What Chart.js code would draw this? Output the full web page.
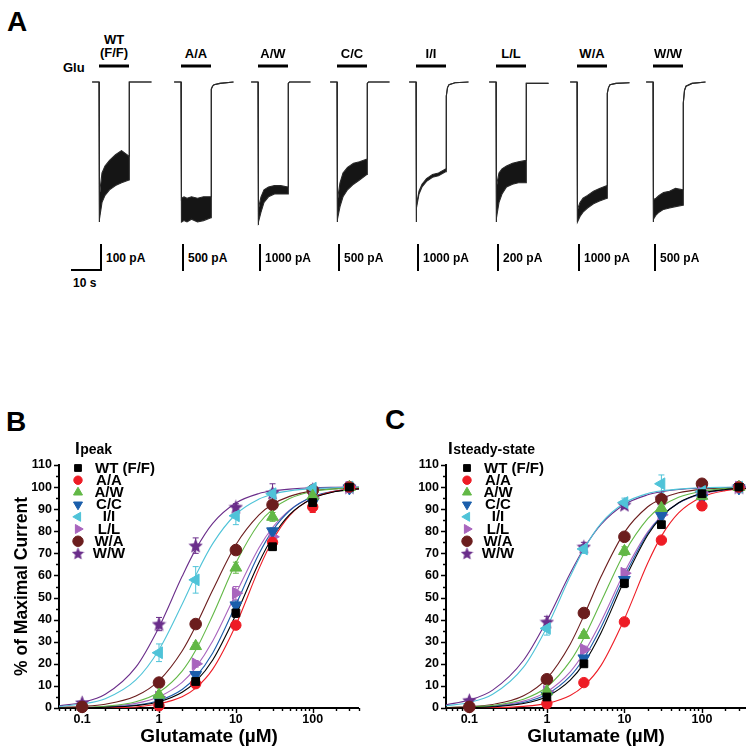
<!DOCTYPE html>
<html>
<head>
<meta charset="utf-8">
<title>Glutamate dose-response</title>
<script src="https://cdn.jsdelivr.net/npm/chart.js@4.4.1/dist/chart.umd.min.js"></script>
<style>
  html, body { margin: 0; padding: 0; background: #fff; }
  body { position: relative; width: 754px; height: 755px; overflow: hidden;
         font-family: "Liberation Sans", Arial, sans-serif; font-weight: bold; color: #000; }
  .abs { position: absolute; white-space: pre; }
  .panel-letter { font-size: 28px; line-height: 28px; }
  .trace-label { font-size: 13px; line-height: 13px; text-align: center; width: 80px; }
  .scale-label { font-size: 12px; line-height: 14px; }
  .bar { position: absolute; background: #000; }
  canvas { position: absolute; }
</style>
</head>
<body>
<div class="abs panel-letter" style="left:7px;top:8px">A</div>
<div class="abs panel-letter" style="left:6px;top:408px">B</div>
<div class="abs panel-letter" style="left:385px;top:406px">C</div>
<div class="abs trace-label" style="left:63px;top:61px;width:auto">Glu</div>
<div id="panelA"></div>
<canvas id="chartB" width="377" height="375" style="left:0;top:380px"></canvas>
<canvas id="chartC" width="377" height="375" style="left:377px;top:380px"></canvas>

<script>
(function () {
  'use strict';

  // ── Panel A data: currents normalised to peak, time in s ──────────── //
  const TRACE_LABELS = ['WT\n(F/F)', 'A/A', 'A/W', 'C/C', 'I/I', 'L/L', 'W/A', 'W/W'];
  const SCALE_LABELS = ['100 pA', '500 pA', '1000 pA', '500 pA', '1000 pA', '200 pA', '1000 pA', '500 pA'];
  const GLU_ON  = 0;
  const GLU_OFF = 10;
  const PRE_T   = [-2.3, 0];
  const APPLY_T = [0, 0.3, 1, 2, 3.5, 5.5, 7.5, 10];
  const TAIL_T  = [10.1, 10.5, 11, 13, 17.5];
  // upper (less negative) and lower edge of the noisy current during glutamate
  const TRACE_HI = [
    [-1.00, -0.80, -0.65, -0.60, -0.56, -0.52, -0.49, -0.53],
    [-0.85, -0.83, -0.82, -0.83, -0.82, -0.83, -0.82, -0.82],
    [-1.02, -0.90, -0.82, -0.77, -0.75, -0.74, -0.74, -0.75],
    [-1.00, -0.84, -0.72, -0.65, -0.61, -0.58, -0.57, -0.55],
    [-1.00, -0.88, -0.78, -0.73, -0.69, -0.66, -0.65, -0.62],
    [-1.00, -0.74, -0.65, -0.62, -0.60, -0.58, -0.57, -0.56],
    [-1.00, -0.91, -0.86, -0.83, -0.81, -0.78, -0.76, -0.74],
    [-1.00, -0.84, -0.83, -0.81, -0.79, -0.78, -0.76, -0.77]
  ];
  const TRACE_LO = [
    [-1.00, -0.98, -0.86, -0.81, -0.77, -0.74, -0.72, -0.70],
    [-1.00, -1.00, -0.99, -1.00, -0.98, -1.00, -0.99, -0.97],
    [-1.02, -1.00, -0.93, -0.86, -0.82, -0.80, -0.80, -0.80],
    [-1.00, -0.98, -0.89, -0.82, -0.77, -0.73, -0.70, -0.66],
    [-1.00, -0.90, -0.80, -0.75, -0.71, -0.68, -0.67, -0.64],
    [-1.00, -0.97, -0.86, -0.80, -0.75, -0.73, -0.72, -0.72],
    [-1.00, -1.00, -0.96, -0.93, -0.90, -0.87, -0.85, -0.83],
    [-1.00, -0.98, -0.95, -0.93, -0.91, -0.90, -0.89, -0.88]
  ];
  const TRACE_TAIL = [
    [0, 0, 0, 0, 0],
    [-0.05, -0.03, -0.02, -0.01, 0],
    [-0.01, 0, 0, 0, 0],
    [-0.01, 0, 0, 0, 0],
    [-0.10, -0.04, -0.02, -0.005, 0],
    [-0.01, -0.01, -0.01, -0.01, -0.01],
    [-0.08, -0.04, -0.02, -0.01, -0.005],
    [-0.15, -0.06, -0.03, -0.01, 0]
  ];

  // ── Panels B / C data ─────────────────────────────────────────────── //
  const GENOTYPES = ['WT (F/F)', 'A/A', 'A/W', 'C/C', 'I/I', 'L/L', 'W/A', 'W/W'];
  const CONC = [0.1, 1, 3, 10, 30, 100, 300];   // µM
  const PEAK_MEAN = [
    [null, 2, 12, 43, 73, 93, 100],
    [null, 1, 11, 37.5, 75, 91, 100],
    [null, 6, 28, 63.5, 86.5, 96, 100],
    [null, 3.5, 15, 46.5, 80, 93, 99.5],
    [null, 25, 58, 87, 97, 99.5, 100],
    [null, 5, 20, 52, 77.5, 95, 100],
    [0.5, 11.5, 38, 71.5, 92, 98.5, 100],
    [2.5, 38, 73.5, 91, 97.5, 99, 100]
  ];
  const PEAK_SEM = [
    [null, 0.5, 1, 2, 1.5, 1, 0],
    [null, 0.5, 1, 1.5, 2, 2.5, 0],
    [null, 1, 1.5, 2.5, 2, 1, 0],
    [null, 0.5, 1, 2, 1.5, 1, 0],
    [null, 4, 6, 4, 2, 1, 0],
    [null, 1, 1.5, 3, 2, 1, 0],
    [0.3, 1, 2, 1.5, 1, 0.5, 0],
    [0.5, 3, 3.5, 1.5, 4, 0.5, 0]
  ];
  const SS_MEAN = [
    [null, 5, 20, 56.5, 83, 97, 100],
    [null, 2, 11.5, 39, 76, 91.5, 100],
    [null, 7.5, 33, 71, 90.5, 96, 100],
    [null, 5.5, 22.5, 58, 87, 95, 99.5],
    [null, 36, 72, 93, 101.5, 98, 100],
    [null, 7.5, 26.5, 61, 87.5, 97.5, 100],
    [0.5, 13, 43, 77.5, 94.5, 101.5, 100],
    [3.5, 39, 73, 92, 95, 97, 100]
  ];
  const SS_SEM = [
    [null, 0.5, 1, 2, 1, 1, 0],
    [null, 0.5, 1, 1.5, 1.5, 2, 0],
    [null, 1, 1.5, 2, 2, 1, 0],
    [null, 0.5, 1, 2, 1.5, 1, 0],
    [null, 3, 2, 2, 4, 1, 0],
    [null, 1, 1.5, 2, 1.5, 1, 0],
    [0.3, 1, 2, 1.5, 1, 1, 0],
    [0.5, 2.5, 2, 1.5, 1.5, 1, 0]
  ];
  // fitted curves, read at these concentrations
  const FIT_X = [0.05, 0.1, 0.2, 0.5, 1, 2, 3, 5, 10, 20, 30, 50, 100, 200, 400];
  const PEAK_FIT = [
    [0.04, 0.12, 0.31, 1.1, 2.8, 7.1, 11.9, 21.7, 42.2, 65.9, 77.3, 87.5, 94.8, 98.0, 99.2],
    [0.02, 0.04, 0.12, 0.48, 1.9, 5.1, 9.0, 17.6, 37.6, 63.1, 75.8, 87.1, 95.0, 98.2, 99.3],
    [0.11, 0.30, 0.79, 2.8, 7.1, 16.7, 26.1, 42.0, 65.6, 83.5, 89.9, 94.8, 98.0, 99.2, 99.7],
    [0.05, 0.14, 0.36, 1.3, 3.4, 8.4, 14.0, 24.9, 46.7, 69.8, 80.3, 89.3, 95.7, 98.3, 99.3],
    [0.73, 1.8, 4.2, 12.7, 26.4, 47.0, 60.0, 74.4, 87.7, 94.6, 96.8, 98.3, 99.3, 99.7, 99.9],
    [0.11, 0.27, 0.66, 2.1, 5.1, 11.6, 18.3, 30.3, 51.7, 72.5, 81.7, 89.6, 95.5, 98.1, 99.2],
    [0.29, 0.71, 1.7, 5.4, 12.4, 25.8, 37.1, 53.4, 73.9, 87.4, 92.2, 95.8, 98.3, 99.3, 99.7],
    [1.0, 2.5, 6.2, 18.5, 36.6, 59.6, 71.8, 83.6, 92.8, 97.1, 98.3, 99.1, 99.7, 99.9, 100]
  ];
  const SS_FIT = [
    [0.08, 0.22, 0.57, 2.0, 5.2, 12.6, 20.2, 34.1, 57.8, 78.3, 86.4, 92.9, 97.2, 98.9, 99.6],
    [0.02, 0.07, 0.19, 0.75, 2.1, 5.7, 10.0, 19.3, 40.3, 65.6, 77.8, 88.3, 95.5, 98.4, 99.4],
    [0.18, 0.47, 1.2, 4.0, 9.5, 21.2, 31.7, 48.1, 70.2, 85.7, 91.2, 95.4, 98.1, 99.3, 99.7],
    [0.12, 0.29, 0.74, 2.5, 6.2, 14.4, 22.5, 36.6, 59.6, 79.0, 86.7, 92.8, 97.1, 98.8, 99.5],
    [1.0, 2.5, 6.2, 18.5, 36.6, 59.6, 71.8, 83.6, 92.8, 97.1, 98.3, 99.1, 99.7, 99.9, 100],
    [0.16, 0.40, 0.97, 3.1, 7.4, 16.4, 25.0, 39.2, 61.4, 79.7, 86.9, 92.8, 96.9, 98.7, 99.5],
    [0.23, 0.61, 1.6, 5.5, 13.4, 28.9, 41.8, 59.5, 79.5, 91.1, 94.7, 97.4, 99.0, 99.6, 99.9],
    [1.5, 3.6, 8.1, 21.6, 39.6, 61.0, 72.2, 83.1, 92.1, 96.5, 97.9, 98.9, 99.5, 99.8, 99.9]
  ];
  const X_TICKS = [0.1, 1, 10, 100];
  const Y_TICKS = [0, 10, 20, 30, 40, 50, 60, 70, 80, 90, 100, 110];

  // ── styles ────────────────────────────────────────────────────────── //
  const FONT = '"Liberation Sans", Arial, sans-serif';
  const COLORS = ['#000000', '#ee1c25', '#62b846', '#1b5eab', '#4fc3d8', '#a864bd', '#6b1d1d', '#6a2d8a'];
  const P_STYLE = ['rect', 'circle', 'triangle', 'triangle', 'triangle', 'triangle', 'circle', 'star'];
  const P_ROT   = [0, 0, 0, 180, 270, 90, 0, 0];
  const P_RAD   = [5.5, 5.2, 6.8, 6.8, 6.8, 6.8, 5.8, 7];
  const L_RAD   = [4.8, 4.2, 5.2, 5.2, 5.2, 5.2, 5.2, 6];

  Chart.defaults.font.family = FONT;
  Chart.defaults.color = '#000';

  function makeStar(size, color) {
    const c = document.createElement('canvas');
    c.width = size; c.height = size;
    const g = c.getContext('2d');
    const R = size / 2, r = R * 0.45;
    g.beginPath();
    for (let i = 0; i < 10; i++) {
      const ang = -Math.PI / 2 + i * Math.PI / 5;
      const rad = i % 2 ? r : R;
      g.lineTo(R + rad * Math.cos(ang), R + rad * 1.05 * Math.sin(ang) + 0.6);
    }
    g.closePath();
    g.fillStyle = color;
    g.fill();
    return c;
  }
  const STAR_BIG   = makeStar(15, COLORS[7]);
  const STAR_SMALL = makeStar(13, COLORS[7]);

  // ── Panel A: traces ───────────────────────────────────────────────── //
  const TRACE_X = [99, 181, 258, 337, 416, 496, 577, 653];   // onset pixel of each trace
  const PX_PER_S = 3;
  const panelA = document.getElementById('panelA');

  const gluBar = {
    id: 'gluBar',
    afterDraw(chart) {
      const x = chart.scales.x, ctx = chart.ctx;
      const x0 = x.getPixelForValue(GLU_ON), x1 = x.getPixelForValue(GLU_OFF);
      ctx.save();
      ctx.fillStyle = '#000';
      ctx.fillRect(x0, 4.5, x1 - x0, 3);
      ctx.restore();
    }
  };

  TRACE_LABELS.forEach(function (label, i) {
    const onset = TRACE_X[i];

    const lab = document.createElement('div');
    lab.className = 'abs trace-label';
    lab.style.left = (onset + 15 - 40) + 'px';
    lab.style.top = (i === 0 ? 32.6 : 46.6) + 'px';
    lab.textContent = label;
    panelA.appendChild(lab);

    const sb = document.createElement('div');
    sb.className = 'bar';
    sb.style.left = (onset + 1) + 'px';
    sb.style.top = '244px';
    sb.style.width = '2px';
    sb.style.height = '27px';
    panelA.appendChild(sb);

    const sl = document.createElement('div');
    sl.className = 'abs scale-label';
    sl.style.left = (onset + 7) + 'px';
    sl.style.top = '251px';
    sl.textContent = SCALE_LABELS[i];
    panelA.appendChild(sl);

    const cv = document.createElement('canvas');
    cv.width = 63; cv.height = 172;
    cv.style.left = (onset - 8) + 'px';
    cv.style.top = '60px';
    panelA.appendChild(cv);

    function edge(vals) {
      return PRE_T.map(function (t) { return { x: t, y: 0 }; })
        .concat(APPLY_T.map(function (t, k) { return { x: t, y: vals[k] }; }))
        .concat(TAIL_T.map(function (t, k) { return { x: t, y: TRACE_TAIL[i][k] }; }));
    }

    new Chart(cv, {
      type: 'line',
      data: {
        datasets: [
          { data: edge(TRACE_HI[i]), borderColor: '#2a2a2a', borderWidth: 1.1, pointRadius: 0, fill: false },
          { data: edge(TRACE_LO[i]), borderColor: '#2a2a2a', borderWidth: 1.1, pointRadius: 0,
            fill: '-1', backgroundColor: '#151515' }
        ]
      },
      options: {
        responsive: false, animation: false, events: [],
        layout: { padding: 0, autoPadding: false },
        plugins: { legend: { display: false }, tooltip: { enabled: false } },
        scales: {
          x: { type: 'linear', display: false, min: -8 / PX_PER_S, max: (63 - 8) / PX_PER_S },
          y: { display: false, min: -150 / 140, max: 22 / 140 }
        }
      },
      plugins: [gluBar]
    });
  });

  // 10 s time bar under the WT trace
  const tb = document.createElement('div');
  tb.className = 'bar';
  tb.style.left = '71px'; tb.style.top = '269px';
  tb.style.width = (10 * PX_PER_S + 1) + 'px'; tb.style.height = '2px';
  panelA.appendChild(tb);
  const tl = document.createElement('div');
  tl.className = 'abs scale-label';
  tl.style.left = '73px'; tl.style.top = '276px';
  tl.textContent = '10 s';
  panelA.appendChild(tl);

  // ── Panels B / C plugins ──────────────────────────────────────────── //
  const axesPlugin = {
    id: 'axesTicks',
    beforeDatasetsDraw(chart) {
      const { ctx, chartArea: a, scales: { x, y } } = chart;
      ctx.save();
      ctx.strokeStyle = '#000';
      ctx.lineWidth = 2;
      ctx.beginPath();
      ctx.moveTo(a.left, y.getPixelForValue(110) - 1);
      ctx.lineTo(a.left, a.bottom);
      ctx.lineTo(a.right, a.bottom);
      ctx.stroke();
      ctx.lineWidth = 1.4;
      ctx.beginPath();
      for (let v = 0; v <= 110; v += 5) {
        const py = Math.round(y.getPixelForValue(v)) + 0.5;
        const len = v % 10 === 0 ? 5 : 3;
        ctx.moveTo(a.left - len, py); ctx.lineTo(a.left, py);
      }
      for (let d = 0.01; d <= 1000; d *= 10) {
        for (let m = 1; m < 10; m++) {
          const v = d * m;
          if (v < x.min * 0.999 || v > x.max * 1.001) continue;
          const px = Math.round(x.getPixelForValue(v)) + 0.5;
          const len = m === 1 ? 5 : 3;
          ctx.moveTo(px, a.bottom); ctx.lineTo(px, a.bottom + len);
        }
      }
      ctx.stroke();
      ctx.restore();
    }
  };

  const semPlugin = {
    id: 'semBars',
    beforeDatasetsDraw(chart) {
      const { ctx, scales: { x, y } } = chart;
      ctx.save();
      ctx.lineWidth = 1;
      chart.data.datasets.forEach(function (ds) {
        if (!ds.isPoints) return;
        ctx.strokeStyle = ds.borderColor;
        ds.data.forEach(function (p) {
          if (!p.e) return;
          const px = x.getPixelForValue(p.x);
          const y0 = y.getPixelForValue(p.y - p.e), y1 = y.getPixelForValue(p.y + p.e);
          ctx.beginPath();
          ctx.moveTo(px, y0); ctx.lineTo(px, y1);
          ctx.moveTo(px - 3, y0); ctx.lineTo(px + 3, y0);
          ctx.moveTo(px - 3, y1); ctx.lineTo(px + 3, y1);
          ctx.stroke();
        });
      });
      ctx.restore();
    }
  };

  const legendPlugin = {
    id: 'insetLegend',
    afterDraw(chart) {
      const o = chart.options.plugins.insetLegend;
      const ctx = chart.ctx;
      ctx.save();
      ctx.fillStyle = '#000';
      ctx.textBaseline = 'alphabetic';
      ctx.textAlign = 'left';
      ctx.font = 'bold 17px ' + FONT;
      ctx.fillText('I', o.titleX, 74);
      const w = ctx.measureText('I').width;
      ctx.font = 'bold 14px ' + FONT;
      ctx.fillText(o.sub, o.titleX + w + 0.5, 74);

      GENOTYPES.forEach(function (name, i) {
        const y = 88 + i * 12.2;
        ctx.fillStyle = COLORS[i];
        ctx.strokeStyle = COLORS[i];
        ctx.lineWidth = 1;
        Chart.helpers.drawPoint(ctx, {
          pointStyle: P_STYLE[i] === 'star' ? STAR_SMALL : P_STYLE[i],
          rotation: P_ROT[i], radius: L_RAD[i], borderWidth: 1
        }, o.markerX, y);
        ctx.fillStyle = '#000';
        ctx.font = 'bold 15px ' + FONT;
        ctx.textBaseline = 'middle';
        if (i === 0) {
          ctx.textAlign = 'left';
          ctx.fillText(name, o.markerX + 17, y + 0.5);
        } else {
          ctx.textAlign = 'center';
          ctx.fillText(name, o.markerX + 31, y + 0.5);
        }
      });
      ctx.restore();
    }
  };

  function makeDoseChart(canvasId, means, sems, fits, cfg) {
    const datasets = [];
    GENOTYPES.forEach(function (name, i) {
      const pts = [];
      CONC.forEach(function (c, k) {
        if (means[i][k] !== null) pts.push({ x: c, y: means[i][k], e: sems[i][k] });
      });
      datasets.push({
        label: name, isPoints: true, data: pts, showLine: false, order: i,
        pointStyle: P_STYLE[i] === 'star' ? STAR_BIG : P_STYLE[i],
        pointRotation: P_ROT[i], pointRadius: P_RAD[i],
        backgroundColor: COLORS[i], borderColor: COLORS[i], borderWidth: 1, clip: false
      });
    });
    GENOTYPES.forEach(function (name, i) {
      datasets.push({
        label: name + ' fit', data: FIT_X.map(function (x, k) { return { x: x, y: fits[i][k] }; }),
        borderColor: COLORS[i], borderWidth: 1.1, pointRadius: 0, fill: false,
        cubicInterpolationMode: 'monotone', order: 20 + i
      });
    });

    return new Chart(document.getElementById(canvasId), {
      type: 'line',
      data: { datasets: datasets },
      options: {
        responsive: false, animation: false, events: [],
        layout: { padding: { top: 85, right: cfg.padRight, bottom: 0, left: cfg.padLeft }, autoPadding: false },
        plugins: {
          legend: { display: false }, tooltip: { enabled: false },
          insetLegend: { titleX: cfg.titleX, markerX: cfg.markerX, sub: cfg.sub }
        },
        scales: {
          x: {
            type: 'logarithmic', min: 0.05, max: cfg.xMax,
            grid: { display: false, drawTicks: false }, border: { display: false },
            afterBuildTicks: function (s) { s.ticks = X_TICKS.map(function (v) { return { value: v }; }); },
            afterFit: function (s) { s.height = 47; },
            ticks: { padding: 4.5, color: '#000', autoSkip: false, maxRotation: 0,
                     font: { size: 12.5, weight: 'bold' },
                     callback: function (v) { return String(v); } },
            title: { display: true, text: 'Glutamate (µM)', color: '#000',
                     font: { size: 19, weight: 'bold' }, padding: { top: 0, bottom: 6.6 } }
          },
          y: {
            min: 0, max: 110,
            grid: { display: false, drawTicks: false }, border: { display: false },
            afterBuildTicks: function (s) { s.ticks = Y_TICKS.map(function (v) { return { value: v }; }); },
            afterFit: function (s) { s.width = 59; },
            ticks: { padding: 7, color: '#000', font: { size: 12.5, weight: 'bold' } },
            title: { display: cfg.yTitle, text: '% of Maximal Current', color: '#000',
                     font: { size: 17.5, weight: 'bold' }, padding: { top: 11.2, bottom: 0 } }
          }
        }
      },
      plugins: [axesPlugin, semPlugin, legendPlugin]
    });
  }

  makeDoseChart('chartB', PEAK_MEAN, PEAK_SEM, PEAK_FIT,
    { padLeft: 0, padRight: 18, xMax: 400, yTitle: true, titleX: 75, markerX: 78, sub: 'peak' });
  makeDoseChart('chartC', SS_MEAN, SS_SEM, SS_FIT,
    { padLeft: 10, padRight: 8, xMax: 370, yTitle: false, titleX: 71, markerX: 90, sub: 'steady-state' });
})();
</script>
</body>
</html>
